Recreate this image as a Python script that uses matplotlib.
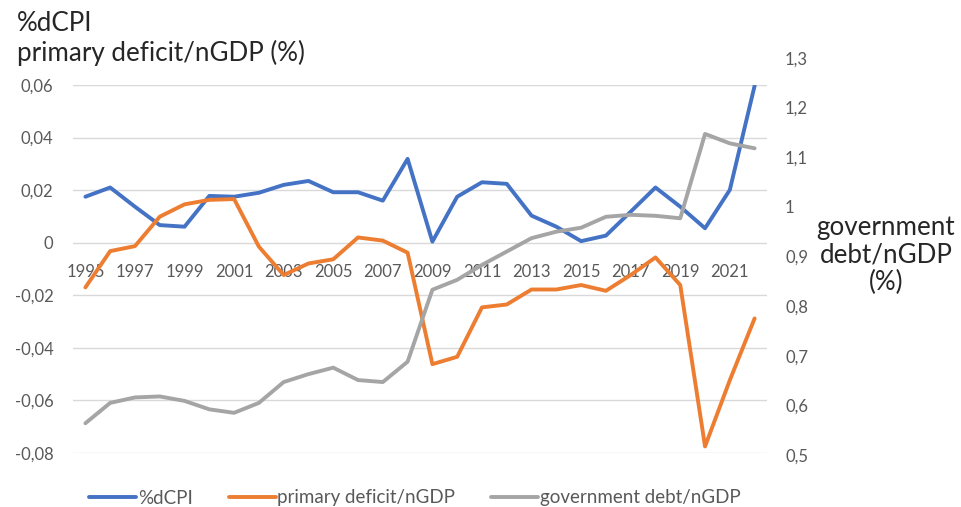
import matplotlib
matplotlib.use('Agg')
import matplotlib.pyplot as plt
from matplotlib.ticker import MultipleLocator, FuncFormatter

plt.rcParams['font.family'] = ['Lato', 'DejaVu Sans']

# data
years = list(range(1995, 2023))
dcpi = [0.0175, 0.0210, 0.0137, 0.0067, 0.0061, 0.0178, 0.0175, 0.0190, 0.0220, 0.0235,
        0.0192, 0.0192, 0.0160, 0.0319, 0.0004, 0.0175, 0.0230, 0.0224, 0.0103, 0.0061,
        0.0006, 0.0027, 0.0118, 0.0210, 0.0137, 0.0055, 0.0201, 0.0597]
deficit = [-0.0170, -0.0032, -0.0013, 0.0099, 0.0146, 0.0163, 0.0166, -0.0015, -0.0123, -0.0079,
           -0.0063, 0.0020, 0.0008, -0.0038, -0.0462, -0.0434, -0.0246, -0.0235, -0.0178, -0.0178,
           -0.0161, -0.0183, -0.0123, -0.0056, -0.0161, -0.0775, -0.0523, -0.0288]
debt = [0.564, 0.605, 0.616, 0.618, 0.609, 0.592, 0.585, 0.605, 0.647, 0.663,
        0.676, 0.651, 0.647, 0.688, 0.833, 0.853, 0.883, 0.910, 0.937, 0.950,
        0.958, 0.980, 0.984, 0.982, 0.977, 1.147, 1.128, 1.118]

labels = ['%dCPI', 'primary deficit/nGDP', 'government debt/nGDP']
colors = ['#4472C4', '#ED7D31', '#A5A5A5']
tick_col = '#595959'
W, H = 962, 507


def comma(v, pos):
    v = round(v, 4) + 0.0
    return f'{v:g}'.replace('.', ',')


fig = plt.figure(figsize=(W / 100, H / 100), dpi=100)

# main axis (left)
ax = fig.add_axes([73 / W, (H - 453) / H, 694 / W, 368 / H])
# secondary axis (right), its scale runs a bit higher than the plot area
ax2 = fig.add_axes([73 / W, (H - 455) / H, 694 / W, 397 / H])
ax2.patch.set_visible(False)

kw = dict(linewidth=2.8, solid_joinstyle='round', solid_capstyle='round')
l1, = ax.plot(years, dcpi, color=colors[0], label=labels[0], **kw)
l2, = ax.plot(years, deficit, color=colors[1], label=labels[1], **kw)
l3, = ax2.plot(years, debt, color=colors[2], label=labels[2], **kw)

ax.set_xlim(1994.5, 2022.5)
ax2.set_xlim(1994.5, 2022.5)
ax.set_ylim(-0.08, 0.06)
ax2.set_ylim(0.5, 1.3)

ax.yaxis.set_major_locator(MultipleLocator(0.02))
ax.yaxis.set_major_formatter(FuncFormatter(comma))
ax2.yaxis.set_major_locator(MultipleLocator(0.1))
ax2.yaxis.set_major_formatter(FuncFormatter(comma))
ax2.yaxis.tick_right()

ax.set_xticks(years[::2])
ax.set_xticklabels([str(y) for y in years[::2]])
ax2.set_xticks([])

ax.grid(axis='y', color='#D9D9D9', linewidth=1)
ax.set_axisbelow(True)

for s in ax.spines.values():
    s.set_color('none')
for s in ax2.spines.values():
    s.set_visible(False)
ax.spines['bottom'].set_position(('data', 0))

ax.tick_params(axis='x', length=0, pad=15, labelsize=12, labelcolor=tick_col)
ax.tick_params(axis='y', length=0, pad=14, labelsize=12, labelcolor=tick_col)
ax2.tick_params(axis='y', length=0, pad=13, labelsize=12, labelcolor=tick_col)

# axis titles
title_col = '#262626'
fig.text(17 / W, 1 - 31 / H, '%dCPI', fontsize=18.7, color=title_col, va='baseline', ha='left')
fig.text(17 / W, 1 - 61 / H, 'primary deficit/nGDP (%)', fontsize=18.7, color=title_col,
         va='baseline', ha='left')
fig.text(886 / W, 1 - 255 / H, 'government\ndebt/nGDP\n(%)', fontsize=18.7, color=title_col,
         ha='center', va='center', multialignment='center', linespacing=1.1)

leg = fig.legend(handles=[l1, l2, l3], loc='center', bbox_to_anchor=(415 / W, 1 - 498 / H),
                 ncol=3, frameon=False, fontsize=13.5, handlelength=2.5, handletextpad=0.1,
                 columnspacing=1.9)
for t in leg.get_texts():
    t.set_color(tick_col)

fig.savefig('out.png', dpi=100)
